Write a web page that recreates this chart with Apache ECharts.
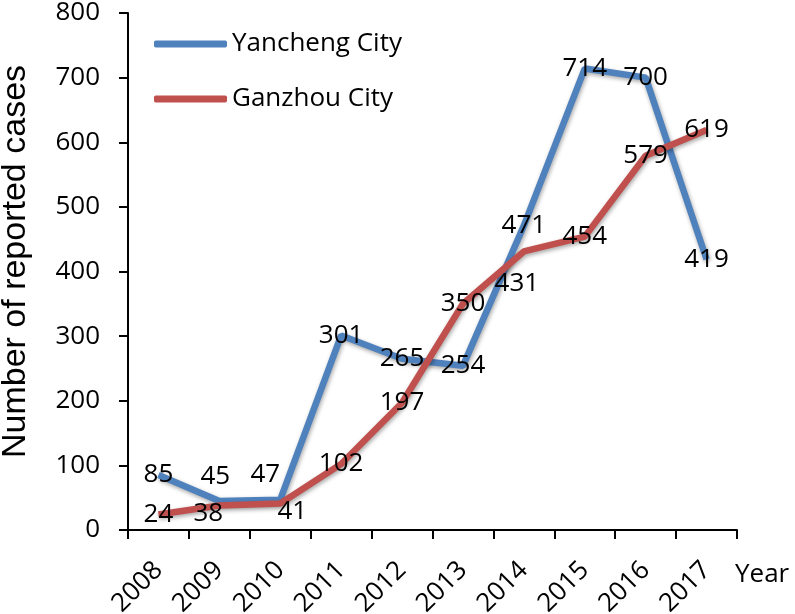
<!DOCTYPE html>
<html>
<head>
<meta charset="utf-8">
<script src="https://cdn.jsdelivr.net/npm/echarts@6/dist/echarts.min.js"></script>
<style>
  html, body { margin: 0; padding: 0; background: #fff; }
  #chart { width: 795px; height: 614px; }
</style>
</head>
<body>
<div id="chart"></div>
<script>
// years on the x axis
var years = ['2008', '2009', '2010', '2011', '2012', '2013', '2014', '2015', '2016', '2017']
// reported cases
var yancheng = [85, 45, 47, 301, 265, 254, 471, 714, 700, 419]
var ganzhou = [24, 38, 41, 102, 197, 350, 431, 454, 579, 619]
// label nudges (px) where Excel moved the label off the point
var yanchengShift = [[0, 0], [-4, -24], [-15, -25], [0, 0], [0, 0], [0, 0], [0, 0], [0, 0], [0, 0], [0, 0]]
var ganzhouShift = [[0, 0], [-11, 8], [12, 8], [0, 0], [0, 0], [0, 0], [-7, 32], [0, 0], [0, 0], [0, 0]]

var font = 'Open Sans'
var fs = 26

function withLabels(values, shift) {
  return values.map(function (v, i) {
    return { value: v, label: { offset: shift[i] } }
  })
}

function lineSeries(name, color, values, shift) {
  return {
    name: name,
    type: 'line',
    data: withLabels(values, shift),
    symbol: 'circle',
    symbolSize: 0.1,
    itemStyle: { color: color },
    lineStyle: {
      color: color,
      width: 6.5,
      shadowBlur: 4,
      shadowColor: 'rgba(0,0,0,0.35)',
      shadowOffsetX: 1,
      shadowOffsetY: 2
    },
    label: {
      show: true,
      position: 'inside',
      color: '#000',
      fontFamily: font,
      fontSize: fs
    },
    emphasis: { disabled: true },
    animation: false
  }
}

var chart = echarts.init(document.getElementById('chart'))
chart.setOption({
  backgroundColor: '#fff',
  grid: { left: 128, right: 58, top: 13, bottom: 84, outerBoundsMode: 'none', containLabel: false },
  legend: {
    orient: 'vertical',
    left: 149,
    top: 25,
    icon: 'roundRect',
    itemWidth: 73,
    itemHeight: 7,
    itemGap: 27,
    textStyle: { fontFamily: font, fontSize: fs, color: '#000', lineHeight: 28 },
    data: ['Yancheng City', 'Ganzhou City']
  },
  xAxis: {
    type: 'category',
    data: years,
    name: '\n\n\nYear',
    nameLocation: 'end',
    nameGap: -2,
    nameTextStyle: {
      fontFamily: font, fontSize: fs, color: '#000',
      align: 'left', verticalAlign: 'middle', lineHeight: 30
    },
    axisLine: { lineStyle: { color: '#000', width: 2 } },
    axisTick: { show: true, length: 9, lineStyle: { color: '#000', width: 2 } },
    axisLabel: { rotate: 45, margin: 36, fontFamily: font, fontSize: fs, color: '#000', interval: 0 }
  },
  yAxis: {
    type: 'value',
    min: 0,
    max: 800,
    interval: 100,
    name: 'Number of reported cases',
    nameLocation: 'middle',
    nameGap: 95,
    nameTextStyle: { fontFamily: 'Liberation Sans', fontSize: 34, color: '#000', padding: [0, 0, 0, 20] },
    axisLine: { show: true, lineStyle: { color: '#000', width: 2 } },
    axisTick: { show: true, length: 9, lineStyle: { color: '#000', width: 2 } },
    axisLabel: { margin: 28, fontFamily: font, fontSize: fs, color: '#000' },
    splitLine: { show: false }
  },
  series: [
    lineSeries('Yancheng City', '#4f81bd', yancheng, yanchengShift),
    lineSeries('Ganzhou City', '#c0504d', ganzhou, ganzhouShift)
  ]
})
</script>
</body>
</html>
